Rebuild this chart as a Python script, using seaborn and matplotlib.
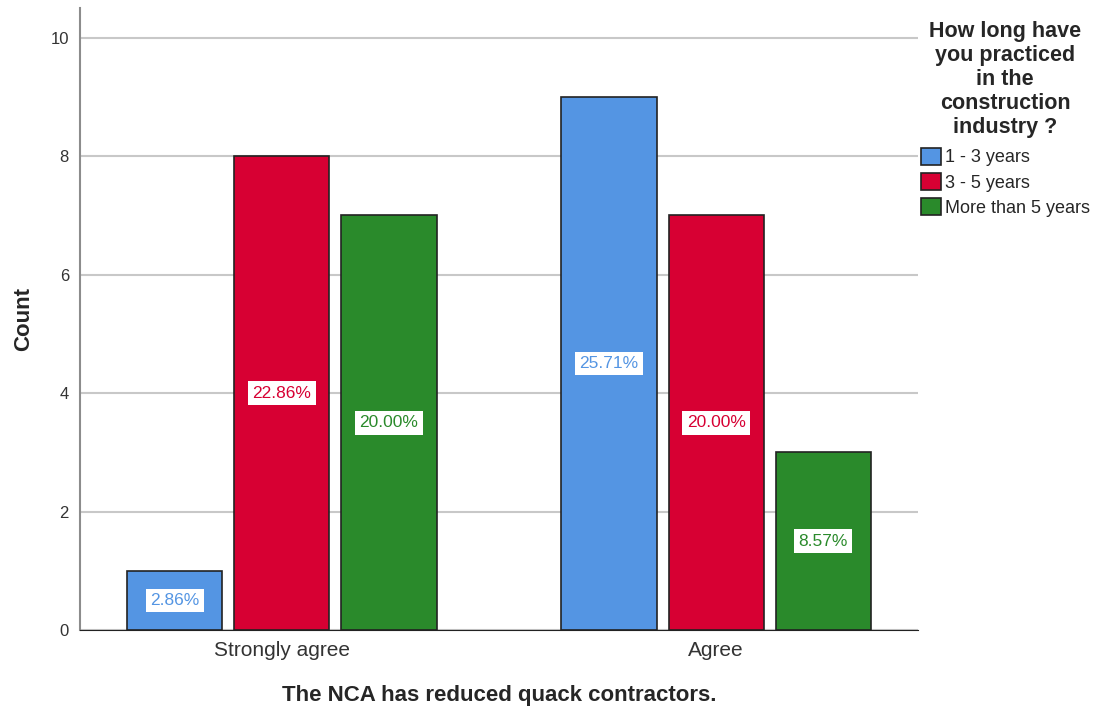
import numpy as np
import pandas as pd
import matplotlib
matplotlib.use("Agg")
import matplotlib.pyplot as plt
import seaborn as sns

# data
responses = ["Strongly agree", "Agree"]
groups = ["1 - 3 years", "3 - 5 years", "More than 5 years"]
counts_1_3 = [1, 9]
counts_3_5 = [8, 7]
counts_5_plus = [7, 3]
total = 35

palette = {"1 - 3 years": "#5495e3", "3 - 5 years": "#d70033", "More than 5 years": "#2a8a2b"}

rows = []
for g, vals in zip(groups, [counts_1_3, counts_3_5, counts_5_plus]):
    for r, v in zip(responses, vals):
        rows.append({"response": r, "group": g, "count": v})
df = pd.DataFrame(rows)

sns.set_style("white")
plt.rcParams['font.family'] = ['Liberation Sans', 'DejaVu Sans']

fig = plt.figure(figsize=(11.01, 7.15), dpi=100)
ax = fig.add_axes([80/1101, 1 - 630/715, (918-80)/1101, (630-8)/715])

sns.barplot(data=df, x="response", y="count", hue="group", order=responses,
            hue_order=groups, palette=palette, width=0.74, gap=0.112,
            edgecolor="#222222", linewidth=1.2, saturation=1, ax=ax)

# percentage labels in the middle of each bar
for cont, g in zip(ax.containers, groups):
    for bar in cont:
        h = bar.get_height()
        ax.text(bar.get_x() + bar.get_width()/2, h/2, f"{h/total*100:.2f}%",
                ha="center", va="center", fontsize=12.5, color=palette[g],
                bbox=dict(boxstyle="square,pad=0.25", fc="white", ec="none"))

ax.set_ylim(0, 10.5)
ax.set_xlim(-0.465, 1.465)
ax.set_yticks([0, 2, 4, 6, 8, 10])
ax.yaxis.grid(True, color="#c8c8c8", linewidth=1.5)
ax.set_axisbelow(True)
for s in ["top", "right"]:
    ax.spines[s].set_visible(False)
ax.spines["left"].set_color("#8c8c8c")
ax.spines["left"].set_linewidth(1.5)
ax.spines["bottom"].set_color("#222222")
ax.tick_params(axis="y", labelsize=12, colors="#333333", length=0, pad=8)
ax.tick_params(axis="x", labelsize=15, colors="#333333", length=0, pad=8)
ax.set_ylabel("Count", fontsize=16, fontweight="bold", labelpad=12)
ax.set_xlabel("The NCA has reduced quack contractors.", fontsize=16, fontweight="bold", labelpad=18)

leg = ax.legend(title="How long have\nyou practiced\nin the\nconstruction\nindustry ?",
                loc="upper left", bbox_to_anchor=(0.995, 0.99), frameon=False,
                fontsize=13, title_fontproperties={"weight": "bold", "size": 15.5},
                handlelength=1.1, handleheight=1.1, handletextpad=0.2,
                labelspacing=0.35, borderaxespad=0)
leg._legend_box.align = "center"
leg._legend_box.sep = 7
leg.get_title().set_multialignment("center")
leg.get_title().set_linespacing(1.18)

fig.savefig("out.png", dpi=100)
